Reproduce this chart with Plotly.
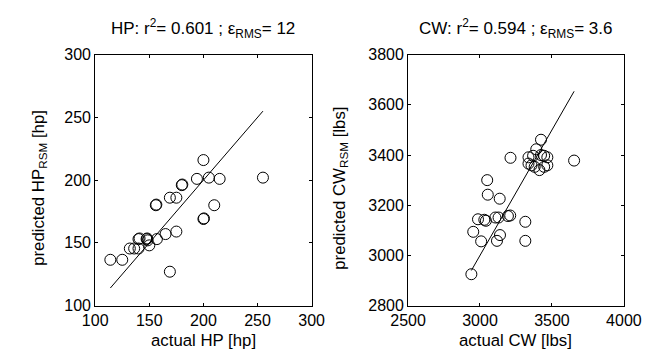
import numpy as np
import plotly.graph_objects as go

# HP panel data
actual_hp = [114, 125, 132, 136, 140, 140, 141, 147.5, 148, 148.5, 150, 157, 165, 175,
             156, 156.5, 169, 175, 180, 180.5, 194, 205, 215, 200, 210, 200, 200.5, 255, 169]
pred_hp = [136.5, 136.5, 145.5, 145.5, 145.5, 153, 153.5, 153, 153.5, 152, 148, 153, 157, 159,
           180, 180.5, 186, 186, 196, 196.5, 201, 202, 201, 216, 180, 169, 169.5, 202, 127]

# CW panel data
actual_cw = [2940, 2953, 2986, 3008, 3030, 3041, 3050, 3054, 3107, 3118, 3129, 3137, 3139,
             3194, 3210, 3212, 3315, 3315, 3337, 3337, 3358, 3369, 3380, 3391, 3413, 3424,
             3424, 3446, 3446, 3468, 3468, 3654]
pred_cw = [2925, 3094, 3144, 3056, 3142, 3138, 3300, 3242, 3151, 3058, 3151, 3226, 3081,
           3157, 3159, 3389, 3134, 3058, 3391, 3366, 3359, 3397, 3353, 3423, 3340, 3461,
           3400, 3397, 3353, 3391, 3359, 3378]

hp_ticks = [100, 150, 200, 250, 300]
cw_xticks = [2500, 3000, 3500, 4000]
cw_yticks = [2800, 3000, 3200, 3400, 3600, 3800]

titles = ["HP: r<sup>2</sup>= 0.601 ; ε<sub>RMS</sub>= 12",
          "CW: r<sup>2</sup>= 0.594 ; ε<sub>RMS</sub>= 3.6"]
xlabels = ["actual HP [hp]", "actual CW [lbs]"]
ylabels = ["predicted HP<sub>RSM</sub> [hp]", "predicted CW<sub>RSM</sub> [lbs]"]

W, H = 657, 360
FONT = "'Liberation Sans', Arial, sans-serif"
FS_TICK = 16
FS_LAB = 16.8
FS_TITLE = 17

fig = go.Figure()

marker = dict(symbol="circle-open", size=11, color="black", line=dict(color="black", width=1))

fig.add_trace(go.Scatter(x=actual_hp, y=pred_hp, mode="markers", marker=marker,
                         xaxis="x", yaxis="y", showlegend=False))
lo, hi = min(actual_hp), max(actual_hp)
fig.add_trace(go.Scatter(x=[lo, hi], y=[lo, hi], mode="lines", line=dict(color="black", width=1),
                         xaxis="x", yaxis="y", showlegend=False))

fig.add_trace(go.Scatter(x=actual_cw, y=pred_cw, mode="markers", marker=marker,
                         xaxis="x2", yaxis="y2", showlegend=False))
lo2, hi2 = min(actual_cw), max(actual_cw)
fig.add_trace(go.Scatter(x=[lo2, hi2], y=[lo2, hi2], mode="lines", line=dict(color="black", width=1),
                         xaxis="x2", yaxis="y2", showlegend=False))

ax = dict(showline=True, linecolor="black", linewidth=1, mirror="ticks", ticks="inside",
          ticklen=3, tickcolor="black", showgrid=False, zeroline=False,
          tickfont=dict(family=FONT, size=FS_TICK, color="black"))

ydom = [1 - 312.33 / H, 1 - 49 / H]
fig.update_layout(
    width=W, height=H, margin=dict(l=0, r=0, t=0, b=0),
    paper_bgcolor="white", plot_bgcolor="white",
    font=dict(family=FONT, size=FS_TICK, color="black"),
    xaxis=dict(ax, domain=[81.67 / W, 310.67 / W], range=[100, 300], tickvals=hp_ticks, anchor="y"),
    yaxis=dict(ax, domain=ydom, range=[100, 300], tickvals=hp_ticks, anchor="x"),
    xaxis2=dict(ax, domain=[412.67 / W, 641 / W], range=[2500, 4000], tickvals=cw_xticks, anchor="y2"),
    yaxis2=dict(ax, domain=ydom, range=[2800, 3800], tickvals=cw_yticks, anchor="x2"),
)

centers = [(81.67 + 310.67) / 2, (412.67 + 641) / 2]
ytitle_x = [22, 340.3]
for i in range(2):
    fig.add_annotation(text=titles[i], xref="paper", yref="paper", x=centers[i] / W, y=1 - 22 / H,
                       xanchor="center", yanchor="middle", showarrow=False,
                       font=dict(family=FONT, size=FS_TITLE, color="black"))
    fig.add_annotation(text=xlabels[i], xref="paper", yref="paper", x=centers[i] / W, y=1 - 349 / H,
                       xanchor="center", yanchor="middle", showarrow=False,
                       font=dict(family=FONT, size=FS_LAB, color="black"))
    fig.add_annotation(text=ylabels[i], xref="paper", yref="paper", x=ytitle_x[i] / W,
                       y=1 - 189 / H, xanchor="center", yanchor="middle",
                       textangle=-90, showarrow=False,
                       font=dict(family=FONT, size=FS_LAB, color="black"))

fig.write_html("out.html")
